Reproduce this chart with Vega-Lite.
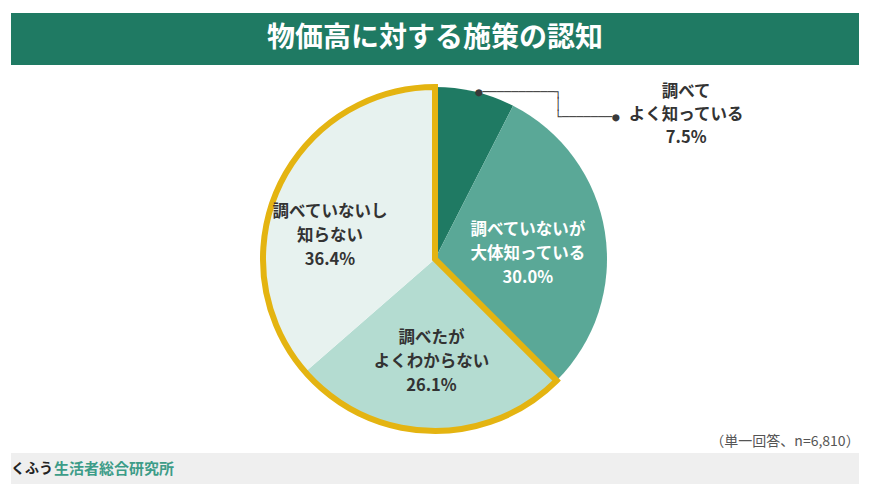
{
  "$schema": "https://vega.github.io/schema/vega-lite/v6.json",
  "background": "white",
  "padding": {"left": 11, "right": 11, "top": 13, "bottom": 8},
  "config": {
    "view": {"stroke": null},
    "font": "Noto Sans CJK JP",
    "concat": {"spacing": 0}
  },
  "datasets": {
    "awareness": [
      {"回答": "調べてよく知っている", "割合": 7.5, "順序": 1, "区分": "認知あり", "ラベル": "調べて\nよく知っている\n7.5%"},
      {"回答": "調べていないが大体知っている", "割合": 30.0, "順序": 2, "区分": "認知あり", "ラベル": "調べていないが\n大体知っている\n30.0%"},
      {"回答": "調べたがよくわからない", "割合": 26.1, "順序": 3, "区分": "認知なし", "ラベル": "調べたが\nよくわからない\n26.1%"},
      {"回答": "調べていないし知らない", "割合": 36.4, "順序": 4, "区分": "認知なし", "ラベル": "調べていないし\n知らない\n36.4%"}
    ]
  },
  "spacing": 4,
  "vconcat": [
    {
      "width": 848,
      "height": 52,
      "view": {"fill": "#1f7a63", "stroke": null},
      "data": {"values": [{"見出し": "物価高に対する施策の認知"}]},
      "mark": {"type": "text", "fontSize": 28, "fontWeight": "bold", "color": "white", "baseline": "middle"},
      "encoding": {"text": {"field": "見出し"}}
    },
    {
      "spacing": 0,
      "bounds": "flush",
      "hconcat": [
        {
          "width": 148,
          "height": 380,
          "data": {"values": []},
          "mark": {"type": "text"},
          "encoding": {}
        },
        {
          "width": 552,
          "height": 380,
          "data": {"name": "awareness"},
          "resolve": {"scale": {"theta": "independent"}},
          "layer": [
            {
              "mark": {"type": "arc", "outerRadius": 172},
              "encoding": {
                "theta": {"field": "割合", "type": "quantitative", "stack": true},
                "order": {"field": "順序", "type": "quantitative"},
                "color": {
                  "field": "回答",
                  "type": "nominal",
                  "scale": {
                    "domain": ["調べてよく知っている", "調べていないが大体知っている", "調べたがよくわからない", "調べていないし知らない"],
                    "range": ["#1f7a63", "#5aa897", "#b4dcd1", "#e7f2ef"]
                  },
                  "legend": null
                }
              }
            },
            {
              "transform": [
                {"aggregate": [{"op": "sum", "field": "割合", "as": "合計"}, {"op": "min", "field": "順序", "as": "最小順序"}], "groupby": ["区分"]}
              ],
              "mark": {"type": "arc", "outerRadius": 172, "fill": "white", "fillOpacity": 0, "strokeWidth": 6, "strokeJoin": "miter"},
              "encoding": {
                "theta": {"field": "合計", "type": "quantitative", "stack": true},
                "order": {"field": "最小順序", "type": "quantitative"},
                "stroke": {"condition": {"test": "datum['区分'] === '認知なし'", "value": "#e4b411"}, "value": "transparent"}
              }
            },
            {
              "transform": [{"filter": "datum['順序'] === 2"}],
              "mark": {"type": "text", "radius": 97, "dx": -3, "dy": -14, "fontSize": 16.5, "fontWeight": "bold", "lineBreak": "\n", "lineHeight": 24, "color": "white"},
              "encoding": {
                "theta": {"field": "割合", "type": "quantitative", "stack": true, "scale": {"domain": [-7.5, 92.5]}},
                "text": {"field": "ラベル"}
              }
            },
            {
              "transform": [{"filter": "datum['順序'] === 3"}],
              "mark": {"type": "text", "radius": 101, "dy": -22, "fontSize": 16.5, "fontWeight": "bold", "lineBreak": "\n", "lineHeight": 24, "color": "#333333"},
              "encoding": {
                "theta": {"field": "割合", "type": "quantitative", "stack": true, "scale": {"domain": [-37.5, 62.5]}},
                "text": {"field": "ラベル"}
              }
            },
            {
              "transform": [{"filter": "datum['順序'] === 4"}],
              "mark": {"type": "text", "radius": 100, "dx": -14, "dy": -6, "fontSize": 16.5, "fontWeight": "bold", "lineBreak": "\n", "lineHeight": 24, "color": "#333333"},
              "encoding": {
                "theta": {"field": "割合", "type": "quantitative", "stack": true, "scale": {"domain": [-63.6, 36.4]}},
                "text": {"field": "ラベル"}
              }
            },
            {
              "transform": [{"filter": "datum['順序'] === 1"}],
              "mark": {"type": "text", "radius": 172, "dx": 211, "dy": 0, "fontSize": 16.5, "fontWeight": "bold", "lineBreak": "\n", "lineHeight": 23, "color": "#333333"},
              "encoding": {
                "theta": {"field": "割合", "type": "quantitative", "stack": true, "scale": {"domain": [0, 100]}},
                "text": {"field": "ラベル"}
              }
            },
            {
              "transform": [{"filter": "datum['順序'] === 1"}],
              "mark": {"type": "text", "radius": 172, "align": "left", "baseline": "middle", "font": "DejaVu Sans Mono", "fontSize": 12, "color": "#3a3a3a"},
              "encoding": {
                "theta": {"field": "割合", "type": "quantitative", "stack": true, "scale": {"domain": [0, 100]}},
                "text": {"value": "●──────────┐"}
              }
            },
            {
              "transform": [{"filter": "datum['順序'] === 1"}],
              "mark": {"type": "text", "radius": 172, "dx": 79.4, "dy": 12.5, "align": "left", "baseline": "middle", "font": "DejaVu Sans Mono", "fontSize": 12, "lineBreak": "\n", "lineHeight": 12.5, "color": "#3a3a3a"},
              "encoding": {
                "theta": {"field": "割合", "type": "quantitative", "stack": true, "scale": {"domain": [0, 100]}},
                "text": {"value": "│\n└───────●"}
              }
            }
          ]
        },
        {
          "spacing": 0,
          "vconcat": [
            {
              "width": 148,
              "height": 365,
              "data": {"values": []},
              "mark": {"type": "text"},
              "encoding": {}
            },
            {
              "width": 148,
              "height": 15,
              "data": {"values": [{"注記": "（単一回答、n=6,810）"}]},
              "mark": {"type": "text", "fontSize": 14, "color": "#555555", "baseline": "middle"},
              "encoding": {"text": {"field": "注記"}}
            }
          ]
        }
      ]
    },
    {
      "spacing": 0,
      "hconcat": [
        {
          "width": 42,
          "height": 31,
          "view": {"fill": "#efefef", "stroke": null},
          "data": {"values": [{"名称": "くふう"}]},
          "mark": {"type": "text", "fontSize": 14, "fontWeight": "bold", "color": "#222222"},
          "encoding": {"text": {"field": "名称"}}
        },
        {
          "width": 122,
          "height": 31,
          "view": {"fill": "#efefef", "stroke": null},
          "data": {"values": [{"名称": "生活者総合研究所"}]},
          "mark": {"type": "text", "fontSize": 15, "fontWeight": "bold", "color": "#3d9c88"},
          "encoding": {"text": {"field": "名称"}}
        },
        {
          "width": 684,
          "height": 31,
          "view": {"fill": "#efefef", "stroke": null},
          "data": {"values": []},
          "mark": {"type": "text"},
          "encoding": {}
        }
      ]
    }
  ]
}
